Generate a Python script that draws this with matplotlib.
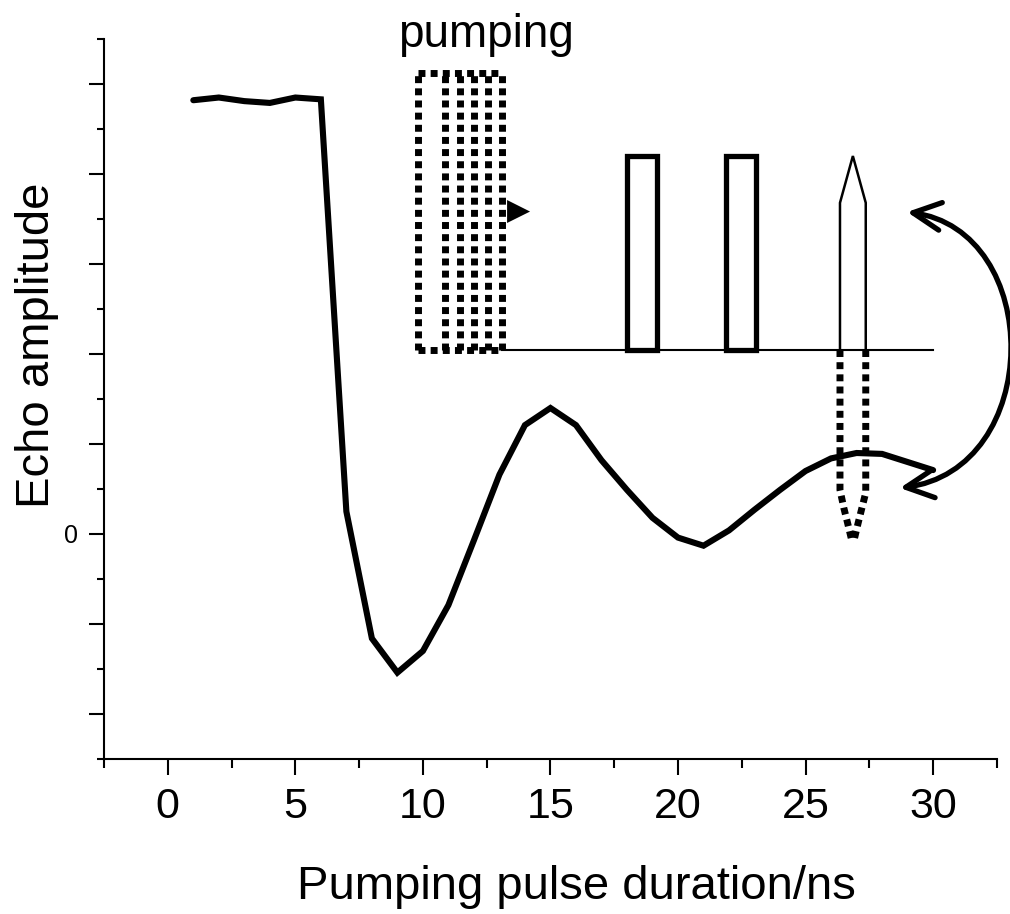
import matplotlib
matplotlib.use('Agg')
import matplotlib.pyplot as plt
from matplotlib.patches import Rectangle, Polygon, FancyArrowPatch, ArrowStyle
from matplotlib.path import Path
import numpy as np

plt.rcParams['font.family'] = ['Liberation Sans', 'DejaVu Sans']

# ---------------- data ----------------
pulse_duration = list(range(1, 31))
echo_amplitude = [4.82, 4.85, 4.81, 4.79, 4.85, 4.83, 0.25, -1.16, -1.54, -1.30,
                  -0.79, -0.07, 0.66, 1.21, 1.40, 1.21, 0.82, 0.49, 0.18, -0.04,
                  -0.13, 0.04, 0.27, 0.49, 0.70, 0.84, 0.90, 0.89, 0.80, 0.71]

xticks_major = [0, 5, 10, 15, 20, 25, 30]
xtick_labels = ['0', '5', '10', '15', '20', '25', '30']
yticks_major = [-2, -1, 0, 1, 2, 3, 4, 5]
ytick_labels = ['', '', '0', '', '', '', '', '']

x_label = 'Pumping pulse duration/ns'
y_label = 'Echo amplitude'
inset_title = 'pumping'

# ------------- schematic pulse sequence (data units) -------------
pump_left = 9.81
pump_rights = [10.87, 11.45, 12.0, 12.55, 13.10]
pump_top = 5.12
base_y = 2.044
base_right = 30.0
pulse_lefts = [18.0, 21.88]
pulse_width = 1.17
pulse_top = 4.2
echo_left, echo_right = 26.35, 27.36
echo_shoulder = 3.68
echo_tip = 4.2
echo_dot_bottom = 0.49
echo_dot_tip = -0.1

# ---------------- figure ----------------
fig = plt.figure(figsize=(10.1, 9.14), dpi=100)
ax = fig.add_axes([0.103, 0.1696, 0.884, 0.7877])
ax.set_xlim(-2.5, 32.5)
ax.set_ylim(-2.5, 5.5)

ax.plot(pulse_duration, echo_amplitude, color='black', lw=4.4,
        solid_joinstyle='miter', solid_capstyle='round', zorder=3)

dot = dict(color='black', lw=5, linestyle=(0, (1, 0.75)), dash_capstyle='butt',
           clip_on=False)
# pumping pulses (dotted)
ax.plot([pump_left, pump_left], [base_y, pump_top], **dot)
for r in pump_rights:
    ax.plot([r, r], [base_y, pump_top], **dot)
ax.plot([pump_left, pump_rights[-1]], [pump_top, pump_top], **dot)
ax.plot([pump_left, pump_rights[-1]], [base_y, base_y], **dot)

# baseline
ax.plot([pump_rights[-1], base_right], [base_y, base_y], color='black', lw=1.5)

# arrow marker
tri_x = pump_rights[-1] + 0.2
ax.add_patch(Polygon([[tri_x, 3.711], [tri_x + 0.9, 3.583], [tri_x, 3.456]],
                     closed=True, color='black', lw=0))

# two solid pulses
for l in pulse_lefts:
    ax.add_patch(Rectangle((l, base_y), pulse_width, pulse_top - base_y,
                           fill=False, lw=3.8, edgecolor='black'))

# echo (thin)
mid = (echo_left + echo_right) / 2
ax.plot([echo_left, echo_left, mid, echo_right, echo_right],
        [base_y, echo_shoulder, echo_tip, echo_shoulder, base_y],
        color='black', lw=1.8, solid_joinstyle='miter')

# inverted echo (dotted)
ax.plot([echo_left, echo_left, echo_left + 0.15, echo_left + 0.3, mid - 0.02],
        [base_y, echo_dot_bottom, echo_dot_bottom - 0.2, echo_dot_bottom - 0.37,
         echo_dot_tip], **dot)
ax.plot([echo_right, echo_right, echo_right - 0.15, echo_right - 0.3, mid + 0.02],
        [base_y, echo_dot_bottom - 0.03, echo_dot_bottom - 0.2,
         echo_dot_bottom - 0.37, echo_dot_tip], **dot)

# curved double arrow
arc = Path([(28.98, 3.578), (34.38, 3.378), (34.38, 0.711), (28.70, 0.511)],
           [Path.MOVETO, Path.CURVE4, Path.CURVE4, Path.CURVE4])
ax.add_patch(FancyArrowPatch(path=arc,
                             arrowstyle=ArrowStyle('<->', head_length=1.0,
                                                   head_width=0.5),
                             mutation_scale=20, lw=3.8, color='black',
                             transform=ax.transData, clip_on=False))

# ---------------- axes styling ----------------
for s in ['top', 'right']:
    ax.spines[s].set_visible(False)
for s in ['left', 'bottom']:
    ax.spines[s].set_linewidth(1.5)

ax.set_xticks(xticks_major)
ax.set_xticklabels(xtick_labels)
ax.set_xticks(np.arange(-2.5, 33, 5), minor=True)
ax.set_yticks(yticks_major)
ax.set_yticklabels(ytick_labels)
ax.set_yticks(np.arange(-2.5, 5.6, 1), minor=True)

ax.tick_params(axis='x', which='major', direction='out', length=11.5, width=1.5,
               pad=9, labelsize=31)
ax.tick_params(axis='x', which='minor', direction='out', length=6.5, width=1.5)
ax.tick_params(axis='y', which='major', direction='out', length=11, width=1.5,
               pad=8, labelsize=18)
ax.tick_params(axis='y', which='minor', direction='out', length=5, width=1.5)

fig.text(576 / 1010, 1 - 899 / 914, x_label, ha='center', va='baseline', fontsize=34)
fig.text(37 / 1010, 1 - 345 / 914, y_label, ha='center', va='center',
         rotation=90, fontsize=34)
fig.text(398 / 1010, 1 - 47 / 914, inset_title, ha='left', va='baseline', fontsize=33)

fig.savefig('out.png', dpi=100)
